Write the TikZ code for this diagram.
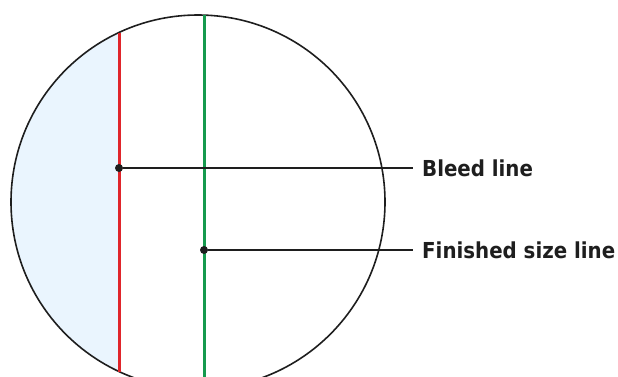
\documentclass[tikz,border=0pt]{standalone}
\usepackage{fontspec}
\setmainfont{DejaVu Sans Condensed}
\usetikzlibrary{positioning,calc}
\definecolor{dieInk}{HTML}{1E1E1E}
\definecolor{dieRed}{HTML}{E0252B}
\definecolor{dieGreen}{HTML}{159A4E}
\definecolor{dieMist}{HTML}{EAF5FE}
\tikzset{
  outline/.style={draw=dieInk,line width=1.6pt},
  bleed/.style={draw=dieRed,line width=3pt},
  trim/.style={draw=dieGreen,line width=3pt},
  leader/.style={draw=dieInk,line width=1.8pt},
  pin/.style={circle,fill=dieInk,inner sep=0pt,minimum size=8pt},
  lbl/.style={font=\fontsize{22}{26}\selectfont\bfseries,text=dieInk,anchor=west,inner sep=0pt},
}
\begin{document}
\begin{tikzpicture}[x=1pt,y=-1pt]
    \useasboundingbox (0,0) rectangle (618,376);
    % --- bleed area left of the red line
    \begin{scope}
      \clip (198,202) circle[radius=187];
      \fill[dieMist] (0,0) rectangle (119,400);
    \end{scope}
    \draw[outline] (198,202) circle[radius=187];
    % --- cut lines
    \coordinate (redtop) at (119,32.5);
    \coordinate (redbot) at (119,371.5);
    \coordinate (grntop) at (204,15);
    \coordinate (grnbot) at (204,390);
    \draw[bleed] (redtop) -- (redbot);
    \draw[trim]  (grntop) -- (grnbot);
    % --- pins and labels
    \node[pin] at (119,168) (bp) {};
    \node[pin] at (204,250) (fp) {};
    \node[lbl] at (422,168) (bl) {Bleed line};
    \node[lbl] at (422,250) (fl) {Finished size line};
    \draw[leader] (bp) -- ([xshift=-9pt]bl.west);
    \draw[leader] (fp) -- ([xshift=-9pt]fl.west);
\end{tikzpicture}
\end{document}
